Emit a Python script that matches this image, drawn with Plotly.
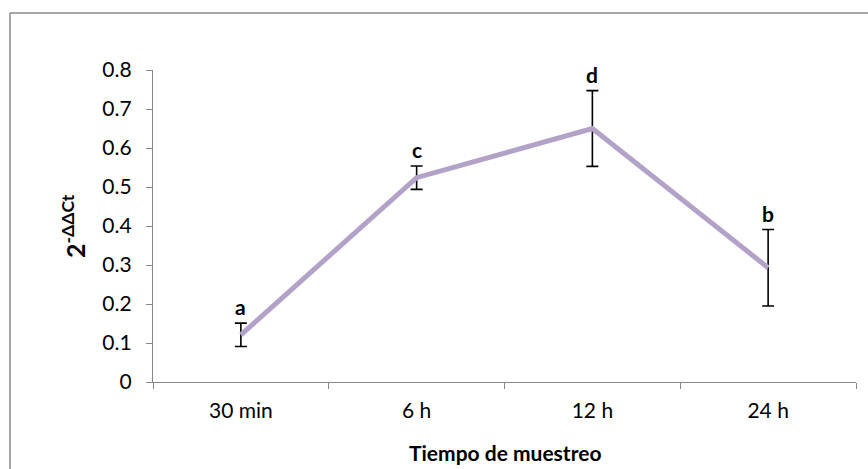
import plotly.graph_objects as go

categories = ["30 min", "6 h", "12 h", "24 h"]
values = [0.121, 0.524, 0.650, 0.293]
errors = [0.030, 0.030, 0.097, 0.098]
letters = ["a", "c", "d", "b"]
y_ticks = [0, 0.1, 0.2, 0.3, 0.4, 0.5, 0.6, 0.7, 0.8]
y_ticktext = ["0", "0.1", "0.2", "0.3", "0.4", "0.5", "0.6", "0.7", "0.8"]

W, H = 868, 469
ML, MR, MT, MB = 153, 12, 70, 87
FONT = "Lato"
GRAY = "#868686"

fig = go.Figure()
fig.add_trace(go.Scatter(
    x=categories, y=values, mode="lines",
    line=dict(color="#B3A2C7", width=5),
    error_y=dict(type="data", array=errors, visible=True, color="black",
                 thickness=1.6, width=6),
    showlegend=False, hoverinfo="skip",
))

for c, v, e, t in zip(categories, values, errors, letters):
    fig.add_annotation(x=c, y=v + e, text="<b>%s</b>" % t, showarrow=False,
                       yanchor="bottom", yshift=2,
                       font=dict(family=FONT, size=21, color="black"))

pw = W - ML - MR
ph = H - MT - MB
# y-axis title
fig.add_annotation(xref="paper", yref="paper", x=(73 - ML) / pw, y=0.5,
                   text="<b>2<sup>-ΔΔCt</sup></b>", textangle=-90, showarrow=False,
                   xanchor="center", yanchor="middle",
                   font=dict(family=FONT, size=25, color="black"))
# x-axis title
fig.add_annotation(xref="paper", yref="paper", x=0.5, y=-(452 - (H - MB)) / ph,
                   text="<b>Tiempo de muestreo</b>", showarrow=False,
                   xanchor="center", yanchor="middle",
                   font=dict(family=FONT, size=21, color="black"))

# outer chart border (left and top edges visible)
fig.add_shape(type="line", xref="paper", yref="paper",
              x0=(10 - ML) / pw, x1=(10 - ML) / pw, y0=-(H + 5 - MT - ph) / ph, y1=(ph + MT - 13) / ph,
              line=dict(color="#8a8a8a", width=1.5))
fig.add_shape(type="line", xref="paper", yref="paper",
              x0=(10 - ML) / pw, x1=(W + 5 - ML) / pw, y0=(ph + MT - 13) / ph, y1=(ph + MT - 13) / ph,
              line=dict(color="#8a8a8a", width=1.5))

fig.update_layout(
    width=W, height=H,
    margin=dict(l=ML, r=MR, t=MT, b=MB),
    paper_bgcolor="white", plot_bgcolor="white",
    font=dict(family=FONT, size=21, color="black"),
    xaxis=dict(type="category", range=[-0.5, 3.5], tickson="boundaries",
               ticks="outside", ticklen=6, tickcolor=GRAY, tickwidth=1.3,
               showline=True, linecolor=GRAY, linewidth=1.3,
               showgrid=False, zeroline=False, ticklabelstandoff=10,
               tickfont=dict(family=FONT, size=21, color="black")),
    yaxis=dict(range=[0, 0.8], tickvals=y_ticks, ticktext=y_ticktext,
               ticks="outside", ticklen=6, tickcolor=GRAY, tickwidth=1.3,
               showline=True, linecolor=GRAY, linewidth=1.3,
               showgrid=False, zeroline=False, ticklabelstandoff=10,
               tickfont=dict(family=FONT, size=21, color="black")),
)

fig.write_html("out.html")
